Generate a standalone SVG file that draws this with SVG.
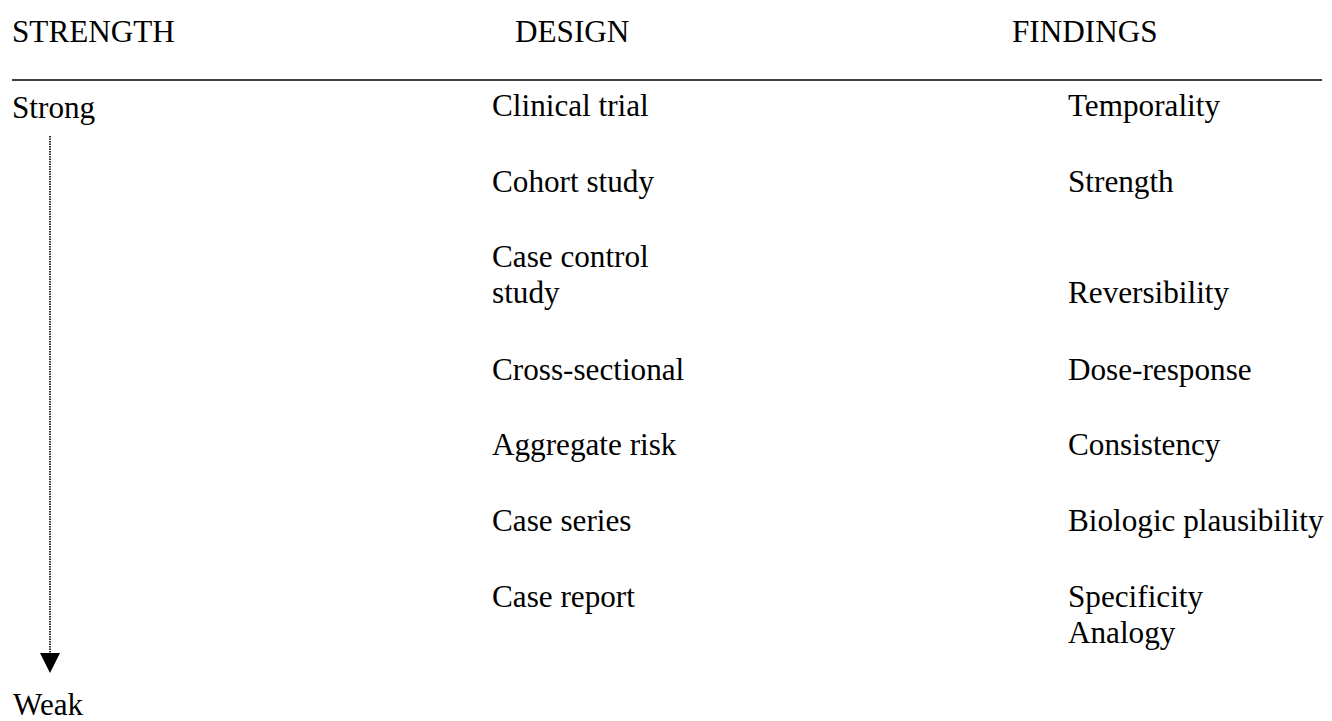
<svg xmlns="http://www.w3.org/2000/svg" width="1332" height="721" viewBox="0 0 1332 721">
<style>
text { font-family: "Liberation Serif", "Times New Roman", serif; font-size: 31.2px; fill: #000; }
.rule { stroke: #000; stroke-width: 1.6; }
.dots { stroke: #000; stroke-width: 1.6; stroke-dasharray: 1.4 1.1; fill: none; }
</style>
<rect width="1332" height="721" fill="#fff"/>
<g id="headers">
<text x="12" y="42">STRENGTH</text>
<text x="515" y="42">DESIGN</text>
<text x="1012" y="42">FINDINGS</text>
<line class="rule" x1="12" y1="80" x2="1322" y2="80"/>
</g>
<g id="strength-scale">
<text x="12" y="118">Strong</text>
<text x="13" y="715">Weak</text>
</g>
<g id="connectors">
<line class="dots" x1="50" y1="136" x2="50" y2="653"/>
<path d="M40,653 L60,653 L50,673 Z" fill="#000"/>
</g>
<g id="design">
<text x="492" y="116">Clinical trial</text>
<text x="492" y="192">Cohort study</text>
<text x="492" y="267">Case control</text>
<text x="492" y="303">study</text>
<text x="492" y="380">Cross-sectional</text>
<text x="492" y="455">Aggregate risk</text>
<text x="492" y="531">Case series</text>
<text x="492" y="607">Case report</text>
</g>
<g id="findings">
<text x="1068" y="116">Temporality</text>
<text x="1068" y="192">Strength</text>
<text x="1068" y="303">Reversibility</text>
<text x="1068" y="380">Dose-response</text>
<text x="1068" y="455">Consistency</text>
<text x="1068" y="531">Biologic plausibility</text>
<text x="1068" y="607">Specificity</text>
<text x="1068" y="643">Analogy</text>
</g>
</svg>
